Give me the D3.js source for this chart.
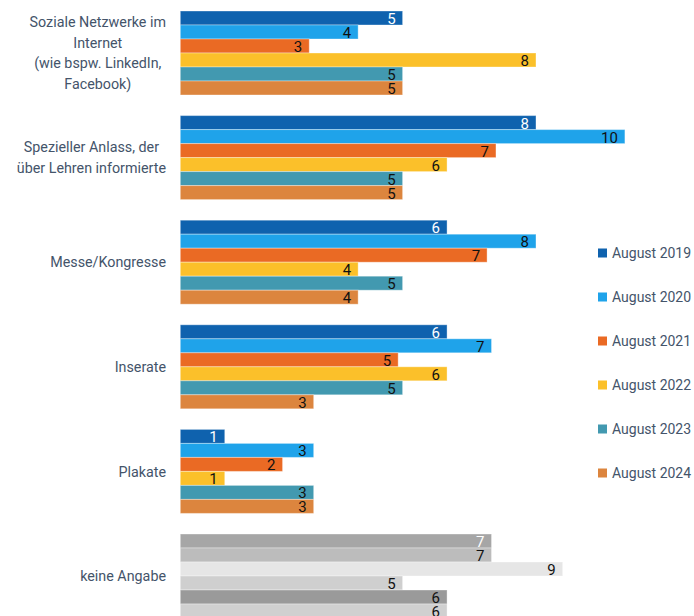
<!DOCTYPE html>
<html>
<head>
<meta charset="utf-8">
<script src="https://cdn.jsdelivr.net/npm/d3@7"></script>
<style>
  html, body { margin: 0; padding: 0; background: #fff; }
  svg { display: block; font-family: Roboto, "Open Sans", sans-serif; }
</style>
</head>
<body>
<svg id="chart" width="694" height="616"></svg>
<script>
// Categories (multi-line labels split on "\n")
const categories = [
  "Soziale Netzwerke im\nInternet\n(wie bspw. LinkedIn,\nFacebook)",
  "Spezieller Anlass, der\nüber Lehren informierte",
  "Messe/Kongresse",
  "Inserate",
  "Plakate",
  "keine Angabe"
];
const seriesNames = ["August 2019", "August 2020", "August 2021", "August 2022", "August 2023", "August 2024"];
// Shares per category; the bar labels show them rounded to whole numbers
const values2019 = [5, 8, 6, 6, 1, 7];
const values2020 = [4, 10, 8, 7, 3, 7];
const values2021 = [2.9, 7.1, 6.9, 4.9, 2.3, 8.6];
const values2022 = [8, 6, 4, 6, 1, 5];
const values2023 = [5, 5, 5, 5, 3, 6];
const values2024 = [5, 5, 4, 3, 3, 6];
const seriesValues = [values2019, values2020, values2021, values2022, values2023, values2024];

const seriesColors = ["#0f62ae", "#1fa3ea", "#ea6a24", "#fbc02a", "#4299b0", "#dc853e"];
// "keine Angabe" is drawn in greys
const greyColors = ["#a6a6a6", "#bcbcbc", "#e6e6e6", "#cfcfcf", "#9a9a9a", "#d0d0d0"];
const greyCategory = "keine Angabe";

const svg = d3.select("#chart");
const plotLeft = 180.3;
const textColor = "#44546a";
const fmt = d3.format(".0f");

const x = d3.scaleLinear().domain([0, 10]).range([plotLeft, plotLeft + 444.6]);
const y0 = d3.scaleBand().domain(categories).range([11, 618]).paddingInner(0.197).paddingOuter(0);
const y1 = d3.scaleBand().domain(seriesNames).range([0, y0.bandwidth()]);

const rows = [];
categories.forEach((c, ci) => {
  seriesNames.forEach((s, si) => {
    rows.push({ cat: c, series: s, si, value: seriesValues[si][ci] });
  });
});

const g = svg.append("g");
const groups = g.selectAll("g.cat").data(categories).join("g")
  .attr("class", "cat")
  .attr("transform", d => `translate(0,${y0(d)})`);

groups.each(function(cat) {
  const data = rows.filter(r => r.cat === cat);
  const grp = d3.select(this);
  const isGrey = cat === greyCategory;
  grp.selectAll("rect").data(data).join("rect")
    .attr("x", x(0))
    .attr("y", d => y1(d.series))
    .attr("width", d => x(d.value) - x(0))
    .attr("height", y1.bandwidth())
    .attr("fill", d => isGrey ? greyColors[d.si] : seriesColors[d.si])
    .attr("stroke", "#fff")
    .attr("stroke-opacity", 0.35)
    .attr("stroke-width", 1);
  grp.selectAll("text.val").data(data).join("text")
    .attr("class", "val")
    .attr("x", d => x(d.value) - 7)
    .attr("y", d => y1(d.series) + y1.bandwidth() - 1)
    .attr("text-anchor", "end")
    .attr("font-size", 15)
    .attr("fill", d => d.si === 0 ? "#fff" : "#111")
    .text(d => fmt(d.value));
});

// Category labels: lines centred within a block that is right-aligned to the plot
const labelRight = 166;
const lineH = 20.5;
categories.forEach(cat => {
  const lines = cat.split("\n");
  const t = svg.append("text")
    .attr("font-size", 14.3)
    .attr("fill", textColor)
    .attr("text-anchor", "middle");
  const cy = y0(cat) + y0.bandwidth() / 2;
  const startY = cy - (lines.length - 1) * lineH / 2;
  const spans = lines.map((ln, i) => t.append("tspan").attr("y", startY + i * lineH).attr("dy", "0.36em").text(ln));
  const maxW = d3.max(spans, s => s.node().getComputedTextLength());
  spans.forEach(s => s.attr("x", labelRight - maxW / 2));
});

// Legend
const legend = svg.append("g").attr("transform", "translate(598,253)");
const li = legend.selectAll("g").data(seriesNames).join("g")
  .attr("transform", (d, i) => `translate(0,${i * 44})`);
li.append("rect").attr("x", 0).attr("y", -4.5).attr("width", 9).attr("height", 9)
  .attr("fill", (d, i) => seriesColors[i]);
li.append("text").attr("x", 14).attr("y", 0).attr("dy", "0.36em")
  .attr("font-size", 14).attr("fill", textColor).text(d => d);
</script>
</body>
</html>
